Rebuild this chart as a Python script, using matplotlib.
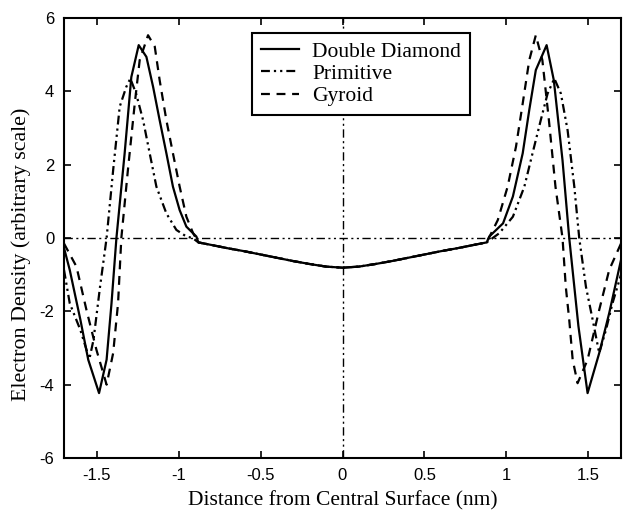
import matplotlib
matplotlib.use("Agg")
import matplotlib.pyplot as plt

# Double Diamond (solid)
dd_x = [-1.70, -1.665, -1.60, -1.552, -1.486, -1.44, -1.41, -1.38, -1.33, -1.289, -1.244,
        -1.197, -1.156, -1.116, -1.075, -1.035, -0.994, -0.953, -0.892, -0.88,
        -0.80, -0.70, -0.60, -0.50, -0.40, -0.30, -0.20, -0.10, 0.0,
        0.10, 0.20, 0.30, 0.40, 0.50, 0.60, 0.70, 0.80, 0.88,
        0.896, 0.98, 1.04, 1.10, 1.14, 1.18, 1.246, 1.29, 1.343, 1.384,
        1.44, 1.496, 1.567, 1.628, 1.70]
dd_y = [-0.27, -0.87, -2.23, -3.32, -4.23, -3.32, -1.78, 0.0, 2.30, 4.39, 5.26,
        4.94, 4.12, 3.21, 2.31, 1.40, 0.76, 0.31, 0.04, -0.12,
        -0.19, -0.28, -0.36, -0.45, -0.54, -0.63, -0.71, -0.78, -0.81,
        -0.78, -0.71, -0.63, -0.54, -0.45, -0.36, -0.28, -0.19, -0.12,
        0.04, 0.40, 1.13, 2.31, 3.49, 4.58, 5.26, 4.30, 2.12, 0.0,
        -2.40, -4.23, -3.14, -2.05, -0.60]

# Primitive (dash-dot-dot)
pr_x = [-1.70, -1.665, -1.60, -1.545, -1.52, -1.48, -1.44, -1.40, -1.36, -1.32, -1.295,
        -1.26, -1.217, -1.177, -1.136, -1.075, -1.014, -0.953, -0.915, -0.88,
        -0.80, -0.70, -0.60, -0.50, -0.40, -0.30, -0.20, -0.10, 0.0,
        0.10, 0.20, 0.30, 0.40, 0.50, 0.60, 0.70, 0.80, 0.88,
        0.957, 1.04, 1.11, 1.16, 1.21, 1.252, 1.293, 1.333, 1.374, 1.415, 1.445,
        1.486, 1.527, 1.567, 1.608, 1.648, 1.70]
pr_y = [-0.87, -1.78, -2.51, -3.30, -2.78, -1.33, 0.0, 1.85, 3.58, 4.12, 4.35,
        3.94, 3.21, 2.31, 1.40, 0.67, 0.22, 0.04, 0.0, -0.12,
        -0.19, -0.28, -0.36, -0.45, -0.54, -0.63, -0.71, -0.78, -0.81,
        -0.78, -0.71, -0.63, -0.54, -0.45, -0.36, -0.28, -0.19, -0.12,
        0.13, 0.58, 1.40, 2.31, 3.21, 3.94, 4.35, 3.94, 2.94, 1.40, 0.0,
        -1.33, -2.23, -3.14, -2.51, -1.78, -1.00]

# Gyroid (dashed)
gy_x = [-1.70, -1.624, -1.563, -1.502, -1.44, -1.40, -1.37, -1.35, -1.31, -1.268, -1.238,
        -1.187, -1.146, -1.116, -1.075, -1.035, -0.994, -0.953, -0.912, -0.88,
        -0.80, -0.70, -0.60, -0.50, -0.40, -0.30, -0.20, -0.10, 0.0,
        0.10, 0.20, 0.30, 0.40, 0.50, 0.60, 0.70, 0.80, 0.88,
        0.948, 1.008, 1.059, 1.10, 1.14, 1.18, 1.22, 1.26, 1.30, 1.343,
        1.363, 1.384, 1.405, 1.435, 1.496, 1.567, 1.628, 1.70]
gy_y = [-0.15, -0.78, -1.96, -3.05, -4.00, -3.14, -1.78, 0.0, 1.85, 3.67, 4.85,
        5.53, 5.22, 4.30, 3.21, 2.31, 1.40, 0.58, 0.13, -0.12,
        -0.19, -0.28, -0.36, -0.45, -0.54, -0.63, -0.71, -0.78, -0.81,
        -0.78, -0.71, -0.63, -0.54, -0.45, -0.36, -0.28, -0.19, -0.12,
        0.49, 1.40, 2.49, 3.67, 4.85, 5.53, 4.85, 3.21, 1.40, 0.0,
        -1.33, -2.23, -3.32, -3.96, -3.32, -1.96, -0.87, -0.15]

x_ticks = [-1.5, -1, -0.5, 0, 0.5, 1, 1.5]
x_tick_labels = ["-1.5", "-1", "-0.5", "0", "0.5", "1", "1.5"]
y_ticks = [-6, -4, -2, 0, 2, 4, 6]
y_tick_labels = ["-6", "-4", "-2", "0", "2", "4", "6"]

serif = ["Liberation Serif", "DejaVu Serif"]
sans = ["Liberation Sans", "DejaVu Sans"]

fig = plt.figure(figsize=(6.23, 5.12), dpi=100)
ax = fig.add_axes([64 / 623, 54 / 512, 557 / 623, 440 / 512])

ddd = (0, (6, 2.5, 1.5, 2.5, 1.5, 2.5))
ax.axhline(0, color="black", lw=1.0, ls=ddd, zorder=1)
ax.axvline(0, color="black", lw=1.0, ls=ddd, zorder=1)

ax.plot(dd_x, dd_y, color="black", lw=1.6, ls="-", label="Double Diamond", zorder=3)
ax.plot(pr_x, pr_y, color="black", lw=1.6, ls=(0, (4, 1.8, 1, 1.8, 1, 1.8)), label="Primitive", zorder=3)
ax.plot(gy_x, gy_y, color="black", lw=1.6, ls=(0, (4, 3)), label="Gyroid", zorder=3)

ax.set_xlim(-1.7, 1.7)
ax.set_ylim(-6, 6)
ax.set_xticks(x_ticks)
ax.set_xticklabels(x_tick_labels, family=sans, fontsize=12)
ax.set_yticks(y_ticks)
ax.set_yticklabels(y_tick_labels, family=sans, fontsize=12)
ax.tick_params(direction="in", length=5, width=1.2, top=True, right=True, pad=7)
for s in ax.spines.values():
    s.set_linewidth(1.5)

ax.set_xlabel("Distance from Central Surface (nm)", family=serif, fontsize=15.5, labelpad=6)
ax.set_ylabel("Electron Density (arbitrary scale)", family=serif, fontsize=15.8)
ax.yaxis.set_label_coords(-0.059, 0.464)

leg = ax.legend(loc="upper left", bbox_to_anchor=((252 - 64) / 557, (458 - 33) / 440),
                borderaxespad=0, prop={"family": serif, "size": 15.5}, fancybox=False,
                framealpha=1, edgecolor="black", handlelength=1.8, handletextpad=0.6,
                labelspacing=0.1, borderpad=0.4)
leg.get_frame().set_linewidth(1.5)
leg.set_zorder(5)

fig.savefig("out.png", dpi=100)
